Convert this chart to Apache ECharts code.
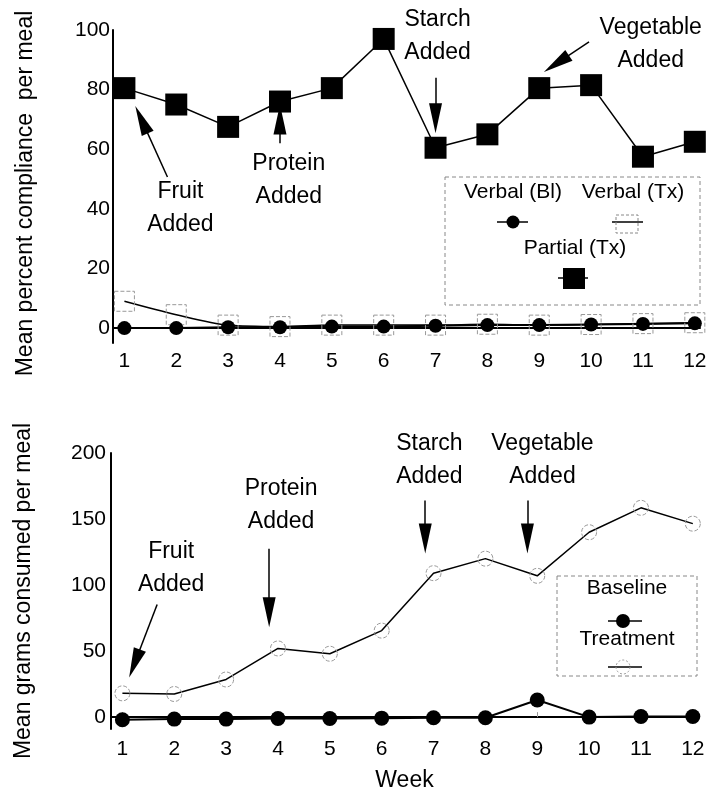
<!DOCTYPE html>
<html>
<head>
<meta charset="utf-8">
<script src="https://cdn.jsdelivr.net/npm/echarts@6/dist/echarts.min.js"></script>
<style>
  html, body { margin: 0; padding: 0; background: #fff; }
  #chart { width: 707px; height: 791px; }
</style>
</head>
<body>
<div id="chart"></div>
<script>
// weeks on the x axis
const weeks = [1, 2, 3, 4, 5, 6, 7, 8, 9, 10, 11, 12];

// top panel: mean percent compliance per meal
const partialTx = [80.5, 75, 67.5, 76, 80.5, 97, 60.5, 65, 80.5, 81.5, 57.5, 62.5];
const verbalBl  = [0, 0, 0.3, 0.3, 0.5, 0.5, 0.8, 1, 1, 1.2, 1.4, 1.6];
const verbalTx  = [9, 4.5, 1, 0.5, 1, 1, 1, 1.3, 1, 1.2, 1.5, 1.8];
const topTicks  = [0, 20, 40, 60, 80, 100];

// bottom panel: mean grams consumed per meal
const baseline  = [-2, -1.5, -1.5, -1, -1, -0.8, -0.5, -0.5, 13, 0, 0.5, 0.5];
const treatment = [18, 17.5, 28.5, 52, 48, 65.5, 109, 120, 107, 140, 158.5, 146.5];
const bottomTicks = [0, 50, 100, 150, 200];

// annotation text and arrows (data coordinates, "to" is the arrow tip)
const topNotes = [
  { text: 'Fruit\nAdded', at: [2.08, 40.3], from: [1.83, 50.7], to: [1.21, 74.5] },
  { text: 'Protein\nAdded', at: [4.17, 49.7], from: [4, 62], to: [4, 75] },
  { text: 'Starch\nAdded', at: [7.04, 98], from: [7, 84], to: [7, 65.4] },
  { text: 'Vegetable\nAdded', at: [11.15, 95.1], from: [9.96, 96], to: [9.09, 85.9] }
];
const bottomNotes = [
  { text: 'Fruit\nAdded', at: [1.94, 113], from: [1.67, 85.3], to: [1.13, 30] },
  { text: 'Protein\nAdded', at: [4.06, 160.8], from: [3.83, 127.5], to: [3.83, 68] },
  { text: 'Starch\nAdded', at: [6.92, 194.7], from: [6.84, 164], to: [6.84, 124] },
  { text: 'Vegetable\nAdded', at: [9.1, 194.7], from: [8.81, 164], to: [8.81, 124] }
];

const font = 'Liberation Sans, Arial, sans-serif';
const pairs = vals => weeks.map((w, i) => [w, vals[i]]);

// markLine symbols are centred on the end point, so pull the end back
// by half the head length so that the tip lands on "to"
const HEAD = [13, 30];
const pullBack = (from, to, sx, sy) => {
  const dx = (to[0] - from[0]) * sx, dy = (to[1] - from[1]) * sy;
  const len = Math.sqrt(dx * dx + dy * dy);
  const b = HEAD[1] / 2;
  return [to[0] - dx / len * b / sx, to[1] - dy / len * b / sy];
};

const notePoints = notes => ({
  symbol: 'rect',
  symbolSize: 1,
  silent: true,
  itemStyle: { color: 'rgba(0,0,0,0)' },
  label: {
    show: true, position: 'inside', color: '#000',
    fontFamily: font, fontSize: 23, lineHeight: 33
  },
  data: notes.map(n => ({ coord: n.at, label: { formatter: n.text } }))
});

const noteArrows = (notes, sx, sy) => ({
  silent: true,
  symbol: ['none', 'triangle'],
  symbolSize: HEAD,
  label: { show: false },
  lineStyle: { color: '#000', width: 1.5, type: 'solid' },
  emphasis: { disabled: true },
  data: notes.map(n => [{ coord: n.from }, { coord: pullBack(n.from, n.to, sx, sy) }])
});

const xAxisBase = labelMargin => ({
  type: 'value',
  min: 0.78,
  max: 12.1,
  axisLine: { show: true, lineStyle: { color: '#000', width: 2 } },
  axisTick: { show: true, inside: true, length: 5, lineStyle: { color: '#999' }, customValues: weeks },
  axisLabel: { color: '#000', fontFamily: font, fontSize: 21, margin: labelMargin, customValues: weeks },
  splitLine: { show: false }
});

const yLabel = { color: '#000', fontFamily: font, fontSize: 21 };
const nameStyle = { color: '#000', fontFamily: font, fontSize: 23 };

const dashedRect = {
  color: 'rgba(0,0,0,0)', borderColor: '#999', borderWidth: 1, borderType: 'dashed'
};

const option = {
  animation: false,
  backgroundColor: '#fff',
  grid: [
    { left: 113, top: 30, width: 587, height: 313, outerBoundsMode: 'none' },
    { left: 111, top: 453, width: 587, height: 276, outerBoundsMode: 'none' }
  ],
  xAxis: [
    Object.assign({ gridIndex: 0 }, xAxisBase(8)),
    Object.assign({ gridIndex: 1, name: 'Week', nameLocation: 'middle', nameGap: 40,
      nameTextStyle: nameStyle }, xAxisBase(10))
  ],
  yAxis: [
    {
      gridIndex: 0, type: 'value', min: -5, max: 100,
      name: 'Mean percent compliance  per meal', nameLocation: 'middle', nameGap: 76,
      nameTextStyle: Object.assign({ padding: [0, 14, 0, 0] }, nameStyle),
      axisLine: { show: true, lineStyle: { color: '#000', width: 2 } },
      axisTick: { show: false },
      axisLabel: Object.assign({ margin: 3, customValues: topTicks }, yLabel),
      splitLine: { show: false }
    },
    {
      gridIndex: 1, type: 'value', min: -9, max: 200,
      name: 'Mean grams consumed per meal', nameLocation: 'middle', nameGap: 76,
      nameTextStyle: nameStyle,
      axisLine: { show: true, lineStyle: { color: '#000', width: 2 } },
      axisTick: { show: false },
      axisLabel: Object.assign({ margin: 5, customValues: bottomTicks }, yLabel),
      splitLine: { show: false }
    }
  ],
  series: [
    {
      name: 'Verbal (Tx)', type: 'line', xAxisIndex: 0, yAxisIndex: 0,
      data: pairs(verbalTx), smooth: 0.3,
      symbol: 'rect', symbolSize: 20, itemStyle: dashedRect,
      lineStyle: { color: '#000', width: 1.5 }
    },
    {
      name: 'Verbal (Bl)', type: 'line', xAxisIndex: 0, yAxisIndex: 0,
      data: pairs(verbalBl),
      symbol: 'circle', symbolSize: 14, itemStyle: { color: '#000' },
      lineStyle: { color: '#000', width: 2 }
    },
    {
      name: 'Partial (Tx)', type: 'line', xAxisIndex: 0, yAxisIndex: 0,
      data: pairs(partialTx), clip: false,
      symbol: 'rect', symbolSize: 22, itemStyle: { color: '#000' },
      lineStyle: { color: '#000', width: 1.5 },
      markPoint: notePoints(topNotes),
      markLine: noteArrows(topNotes, 51.8, 2.98)
    },
    {
      name: 'Treatment', type: 'line', xAxisIndex: 1, yAxisIndex: 1,
      data: pairs(treatment), clip: false,
      symbol: 'circle', symbolSize: 15,
      itemStyle: { color: 'rgba(0,0,0,0)', borderColor: '#999', borderWidth: 1, borderType: 'dashed' },
      lineStyle: { color: '#000', width: 1.5 },
      markPoint: notePoints(bottomNotes),
      markLine: noteArrows(bottomNotes, 51.8, 1.325)
    },
    {
      name: 'Baseline', type: 'line', xAxisIndex: 1, yAxisIndex: 1,
      data: pairs(baseline),
      symbol: 'circle', symbolSize: 15, itemStyle: { color: '#000' },
      lineStyle: { color: '#000', width: 2 }
    }
  ],
  // hand-drawn legends (text sits above each key, as in the figure)
  graphic: [
    { type: 'rect', shape: { x: 445, y: 177, width: 255, height: 128 },
      style: { fill: 'none', stroke: '#888', lineWidth: 1, lineDash: [4, 3] } },
    { type: 'text', x: 513, y: 192, style: { text: 'Verbal (Bl)', font: '21px ' + font, fill: '#000', align: 'center', verticalAlign: 'middle' } },
    { type: 'line', shape: { x1: 497, y1: 222, x2: 528, y2: 222 }, style: { stroke: '#000', lineWidth: 1.5 } },
    { type: 'circle', shape: { cx: 513, cy: 222, r: 6.5 }, style: { fill: '#000' } },
    { type: 'text', x: 633, y: 192, style: { text: 'Verbal (Tx)', font: '21px ' + font, fill: '#000', align: 'center', verticalAlign: 'middle' } },
    { type: 'line', shape: { x1: 612, y1: 222, x2: 643, y2: 222 }, style: { stroke: '#000', lineWidth: 1.5 } },
    { type: 'rect', shape: { x: 616, y: 215, width: 22, height: 18 }, style: { fill: 'none', stroke: '#888', lineWidth: 1, lineDash: [3, 2] } },
    { type: 'text', x: 575, y: 248, style: { text: 'Partial (Tx)', font: '21px ' + font, fill: '#000', align: 'center', verticalAlign: 'middle' } },
    { type: 'line', shape: { x1: 558, y1: 278, x2: 588, y2: 278 }, style: { stroke: '#000', lineWidth: 1.5 } },
    { type: 'rect', shape: { x: 563, y: 268, width: 22, height: 21 }, style: { fill: '#000' } },

    { type: 'rect', shape: { x: 557, y: 576, width: 140, height: 100 },
      style: { fill: 'none', stroke: '#888', lineWidth: 1, lineDash: [4, 3] } },
    { type: 'text', x: 627, y: 588, style: { text: 'Baseline', font: '21px ' + font, fill: '#000', align: 'center', verticalAlign: 'middle' } },
    { type: 'line', shape: { x1: 608, y1: 621, x2: 642, y2: 621 }, style: { stroke: '#000', lineWidth: 1.5 } },
    { type: 'circle', shape: { cx: 623, cy: 621, r: 7 }, style: { fill: '#000' } },
    { type: 'text', x: 627, y: 639, style: { text: 'Treatment', font: '21px ' + font, fill: '#000', align: 'center', verticalAlign: 'middle' } },
    { type: 'line', shape: { x1: 608, y1: 667, x2: 642, y2: 667 }, style: { stroke: '#000', lineWidth: 1.5 } },
    { type: 'circle', shape: { cx: 623, cy: 667, r: 7 }, style: { fill: 'none', stroke: '#999', lineWidth: 1, lineDash: [2, 2] } }
  ]
};

const chart = echarts.init(document.getElementById('chart'), null, { renderer: 'canvas' });
chart.setOption(option);
</script>
</body>
</html>
